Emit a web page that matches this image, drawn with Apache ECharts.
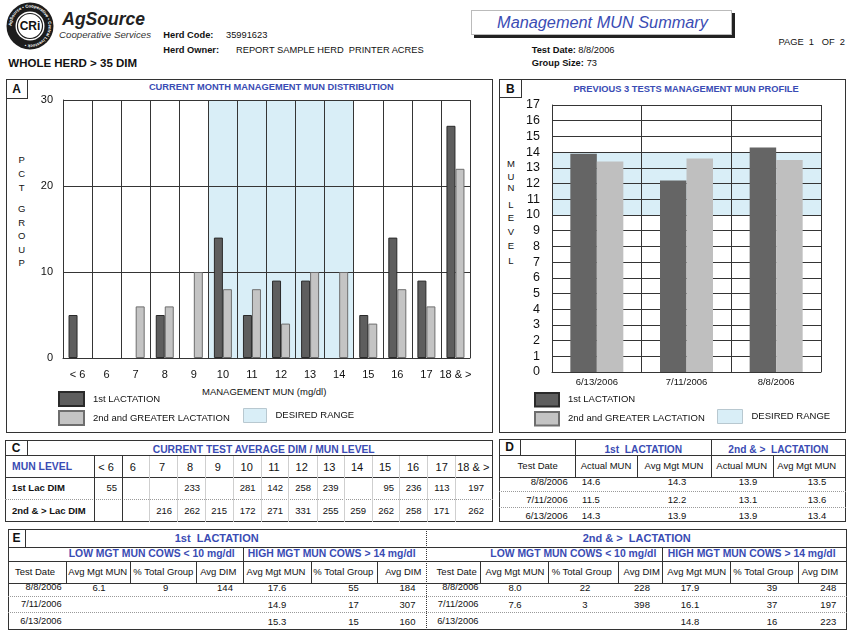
<!DOCTYPE html>
<html><head><meta charset="utf-8">
<script src="https://cdn.jsdelivr.net/npm/echarts@6.0.0/dist/echarts.min.js"></script>
<style>
body{margin:0;background:#fff;}
#page{position:relative;width:850px;height:636px;overflow:hidden;font-family:'Liberation Sans',Arial,sans-serif;color:#111;background:#fff;}
.t{position:absolute;white-space:pre;line-height:1;}
.ln{position:absolute;box-sizing:border-box;}
#chart{position:absolute;left:0;top:0;width:850px;height:636px;z-index:2;}
</style></head><body>
<div id="page">
<svg style="position:absolute;left:5px;top:1px" width="50" height="50" viewBox="0 0 50 50">
 <defs><path id="ring" d="M 25,25 m -18.5,0 a 18.5,18.5 0 1,1 37,0 a 18.5,18.5 0 1,1 -37,0"/></defs>
 <circle cx="25" cy="25" r="23.5" fill="#1c1c1c"/>
 <circle cx="25" cy="25" r="14.5" fill="#fff"/>
 <circle cx="25" cy="25" r="12.5" fill="#fff" stroke="#1c1c1c" stroke-width="1.2"/>
 <text font-size="4.3" font-weight="bold" fill="#fff" font-family="Liberation Sans, Arial"><textPath href="#ring">AgSource • Cooperative • Central Livestock •</textPath></text>
 <text x="25" y="29.3" text-anchor="middle" font-size="12" font-weight="bold" font-family="Liberation Sans, Arial" fill="#111">CRi</text>
</svg>
<div id="chart"></div>
</div>
<script>
// ---------------- DATA ----------------
const munCategories = ['< 6','6','7','8','9','10','11','12','13','14','15','16','17','18 & >'];
const pctFirstLac  = [5, 0, 0, 5, 0, 14, 5, 9, 9, 0, 5, 14, 9, 27];
const pctSecondLac = [0, 0, 6, 6, 10, 8, 8, 4, 10, 10, 4, 8, 6, 22];
const desiredRangeCats = ['10', '14'];
const pctTicks = [0, 30, 10];          // min, max, step
const munLevelTicks = [0, 17, 1];      // min, max, step
const desiredRangeMun = [10, 14];

const testDates = ['8/8/2006', '7/11/2006', '6/13/2006'];
const firstLacActualMun  = [14.6, 11.5, 14.3];
const firstLacAvgMgtMun  = [14.3, 12.2, 13.9];
const secondLacActualMun = [13.9, 13.1, 13.9];
const secondLacAvgMgtMun = [13.5, 13.6, 13.4];

const dimFirstLac  = [55, null, null, 233, null, 281, 142, 258, 239, null, 95, 236, 113, 197];
const dimSecondLac = [null, null, 216, 262, 215, 172, 271, 331, 255, 259, 262, 258, 171, 262];

const e1LowAvgMgt  = [6.1, null, null];
const e1LowPct     = [9, null, null];
const e1LowDim     = [144, null, null];
const e1HighAvgMgt = [17.6, 14.9, 15.3];
const e1HighPct    = [55, 17, 15];
const e1HighDim    = [184, 307, 160];
const e2LowAvgMgt  = [8.0, 7.6, null];
const e2LowPct     = [22, 3, null];
const e2LowDim     = [228, 398, null];
const e2HighAvgMgt = [17.9, 16.1, 14.8];
const e2HighPct    = [39, 37, 16];
const e2HighDim    = [248, 197, 223];

// ---------------- HTML helpers ----------------
const page = document.getElementById('page');
const BLUE = '#3a4cb4';
function T(x, y, s, o) {
  o = o || {};
  const d = document.createElement('div');
  d.className = 't';
  d.textContent = s;
  d.style.left = x + 'px'; d.style.top = y + 'px';
  d.style.fontSize = (o.fs || 9.5) + 'px';
  if (o.b) d.style.fontWeight = 'bold';
  if (o.i) d.style.fontStyle = 'italic';
  d.style.color = o.c || '#111';
  const a = o.a || 'l';
  d.style.transform = a === 'c' ? 'translate(-50%,-50%)' : a === 'r' ? 'translate(-100%,-50%)' : 'translate(0,-50%)';
  page.appendChild(d);
}
function H(x1, x2, y, st) {
  const d = document.createElement('div'); d.className = 'ln';
  d.style.left = x1 + 'px'; d.style.top = y + 'px'; d.style.width = (x2 - x1) + 'px'; d.style.height = '0';
  d.style.borderTop = st || '1px solid #333'; page.appendChild(d);
}
function V(x, y1, y2, st) {
  const d = document.createElement('div'); d.className = 'ln';
  d.style.left = x + 'px'; d.style.top = y1 + 'px'; d.style.height = (y2 - y1) + 'px'; d.style.width = '0';
  d.style.borderLeft = st || '1px solid #333'; page.appendChild(d);
}
function R(x1, y1, x2, y2, st) {
  const d = document.createElement('div'); d.className = 'ln';
  d.style.left = x1 + 'px'; d.style.top = y1 + 'px'; d.style.width = (x2 - x1) + 'px'; d.style.height = (y2 - y1) + 'px';
  d.style.border = st || '1.5px solid #333'; page.appendChild(d);
}
const DOT = '1px dotted #9a9a9a';
const LIGHTSEP = '1px solid #cfcfcf';
const fmt = v => (v === null || v === undefined) ? '' : String(v);
const fmt1 = v => (v === null || v === undefined) ? '' : v.toFixed(1);

// ---------------- Header ----------------
T(62.3, 20.3, 'AgSource', {fs: 17.5, b: 1, i: 1, c: '#222'});
T(59, 34.7, 'Cooperative Services', {fs: 9.7, i: 1, c: '#333'});
T(163.3, 36, 'Herd Code:', {fs: 9.3, b: 1});
T(226, 36, '35991623', {fs: 9.3});
T(163.3, 50.5, 'Herd Owner:', {fs: 9.3, b: 1});
T(236, 50.5, 'REPORT SAMPLE HERD  PRINTER ACRES', {fs: 9.3});
T(8.3, 64.3, 'WHOLE HERD > 35 DIM', {fs: 11.5, b: 1});
(function () {
  const d = document.createElement('div'); d.className = 'ln';
  d.style.cssText += 'left:471px;top:10px;width:261px;height:25px;border:1px solid #bbb;box-shadow:3px 3px 0 #222;background:#fff;';
  page.appendChild(d);
})();
T(602.5, 21.5, 'Management MUN Summary', {fs: 16.3, i: 1, c: BLUE, a: 'c'});
T(531.7, 51.2, 'Test Date:', {fs: 9.3, b: 1});
T(578.3, 51.2, '8/8/2006', {fs: 9.3});
T(531.7, 64.3, 'Group Size:', {fs: 9.3, b: 1});
T(586.7, 64.3, '73', {fs: 9.3});
T(845, 43.3, 'PAGE  1   OF  2', {fs: 9.3, a: 'r'});

// ---------------- Panel A frame ----------------
R(6, 79, 493, 433);
R(6, 79, 27.5, 98.5);
T(16.7, 89, 'A', {fs: 12, b: 1, a: 'c'});
T(271.3, 88, 'CURRENT MONTH MANAGEMENT MUN DISTRIBUTION', {fs: 9.3, b: 1, c: BLUE, a: 'c'});
const pctLetters = ['P','C','T','G','R','O','U','P'];
const pctLetterY = [159.7, 174, 188, 208.7, 223, 235.7, 249.7, 263];
pctLetters.forEach((l, i) => T(21.7, pctLetterY[i], l, {fs: 9.5, a: 'c'}));
T(264.2, 391.7, 'MANAGEMENT MUN (mg/dl)', {fs: 9.5, a: 'c'});

// ---------------- Panel B frame ----------------
R(499, 79, 846, 433);
R(499, 79, 521.5, 98);
T(510.3, 88.7, 'B', {fs: 12, b: 1, a: 'c'});
T(686, 89.7, 'PREVIOUS 3 TESTS MANAGEMENT MUN PROFILE', {fs: 9.3, b: 1, c: BLUE, a: 'c'});
const munLetters = ['M','U','N','L','E','V','E','L'];
const munLetterY = [164, 177.3, 188, 205.3, 218, 232, 246.3, 260.7];
munLetters.forEach((l, i) => T(511, munLetterY[i], l, {fs: 9.5, a: 'c'}));

// ---------------- Panel C ----------------
R(5, 440, 493, 522);
R(5, 440, 27.5, 455.5);
T(16, 447.7, 'C', {fs: 12, b: 1, a: 'c'});
T(263.7, 450.3, 'CURRENT TEST AVERAGE DIM / MUN LEVEL', {fs: 10.3, b: 1, c: BLUE, a: 'c'});
H(5, 493, 455);
H(5, 493, 477);
H(5, 493, 498.7, DOT);
V(94.3, 455, 522); V(121.7, 455, 522);
[149.3, 177.3, 205, 232.7, 260.7, 287.7, 316.7, 344.3, 371.7, 399.3, 427.3, 455].forEach(x => V(x, 455.5, 521.5, LIGHTSEP));
T(12, 466.5, 'MUN LEVEL', {fs: 10.4, b: 1, c: BLUE});
const cHeadX = [106, 132.7, 162, 190, 217.7, 246.7, 274, 301.7, 329.3, 357, 385, 413, 441.7, 473.3];
const cValR = [117, 145, 172, 200, 227, 255.5, 283, 311, 338.5, 366, 394, 421.5, 449.5, 484];
munCategories.forEach((c, i) => T(cHeadX[i], 466.5, c, {fs: 11, a: 'c'}));
T(12, 488, '1st Lac DIM', {fs: 9.5, b: 1});
T(12, 511.3, '2nd & > Lac DIM', {fs: 9.5, b: 1});
dimFirstLac.forEach((v, i) => T(cValR[i], 488, fmt(v), {fs: 9.5, a: 'r'}));
dimSecondLac.forEach((v, i) => T(cValR[i], 511.3, fmt(v), {fs: 9.5, a: 'r'}));

// ---------------- Panel D ----------------
R(499, 439, 846, 522);
R(499, 439, 520.5, 455.5);
T(509.5, 447, 'D', {fs: 12, b: 1, a: 'c'});
H(499, 846, 455);
H(499, 846, 477);
V(575, 439, 477); V(711, 439, 477); V(637.3, 455, 477); V(773.3, 455, 477);
T(643.3, 450, '1st  LACTATION', {fs: 10.2, b: 1, c: BLUE, a: 'c'});
T(778.3, 450, '2nd & >  LACTATION', {fs: 10.2, b: 1, c: BLUE, a: 'c'});
const dHead = ['Test Date', 'Actual MUN', 'Avg Mgt MUN', 'Actual MUN', 'Avg Mgt MUN'];
const dHeadX = [537.7, 606, 674, 741.7, 806.7];
dHead.forEach((h, i) => T(dHeadX[i], 466.3, h, {fs: 9.5, a: 'c'}));
const dRowY = [482.3, 499.7, 516.3];
H(499, 846, 490.7, DOT); H(499, 846, 507.3, DOT);
testDates.forEach((d, r) => {
  T(567.7, dRowY[r], d, {fs: 9.5, a: 'r'});
  T(591, dRowY[r], fmt1(firstLacActualMun[r]), {fs: 9.5, a: 'c'});
  T(677, dRowY[r], fmt1(firstLacAvgMgtMun[r]), {fs: 9.5, a: 'c'});
  T(748, dRowY[r], fmt1(secondLacActualMun[r]), {fs: 9.5, a: 'c'});
  T(817, dRowY[r], fmt1(secondLacAvgMgtMun[r]), {fs: 9.5, a: 'c'});
});

// ---------------- Panel E ----------------
R(8, 529, 847, 630);
R(8, 529, 25.5, 547.5);
T(16.5, 538, 'E', {fs: 12, b: 1, a: 'c'});
H(8, 847, 547); H(8, 847, 561); H(8, 847, 582.5);
V(426, 529, 630, '1.5px dotted #333');
V(242.7, 547, 582.5); V(662.3, 547, 582.5);
[65.7, 130, 196, 310.7, 376.7, 480, 547.7, 618.3, 730, 797.7].forEach(x => V(x, 561, 582.5));
H(8, 847, 596, DOT); H(8, 847, 612.3, DOT);
T(216.7, 537.7, '1st  LACTATION', {fs: 11, b: 1, c: BLUE, a: 'c'});
T(636.7, 537.7, '2nd & >  LACTATION', {fs: 11, b: 1, c: BLUE, a: 'c'});
T(151.7, 554.3, 'LOW MGT MUN COWS < 10 mg/dl', {fs: 10.4, b: 1, c: BLUE, a: 'c'});
T(331.7, 554.3, 'HIGH MGT MUN COWS > 14 mg/dl', {fs: 10.4, b: 1, c: BLUE, a: 'c'});
T(573.3, 554.3, 'LOW MGT MUN COWS < 10 mg/dl', {fs: 10.4, b: 1, c: BLUE, a: 'c'});
T(751.7, 554.3, 'HIGH MGT MUN COWS > 14 mg/dl', {fs: 10.4, b: 1, c: BLUE, a: 'c'});
const eHead = ['Test Date', 'Avg Mgt MUN', '% Total Group', 'Avg DIM', 'Avg Mgt MUN', '% Total Group', 'Avg DIM'];
const eHeadXL = [35, 97.7, 163.3, 218.3, 276, 343.3, 403.3];
const eHeadXR = [456.7, 515, 581.7, 641.7, 696.7, 763.3, 820];
eHead.forEach((h, i) => { T(eHeadXL[i], 571.5, h, {fs: 9.5, a: 'c'}); T(eHeadXR[i], 571.5, h, {fs: 9.5, a: 'c'}); });
const eRowY = [588.3, 605, 622];
const eValXL = [99, 165.7, 225, 277, 353.5, 407.5];
const eValXR = [515, 585, 642, 690, 772, 828.3];
testDates.forEach((d, r) => {
  T(61.7, eRowY[r], d, {fs: 9.3, a: 'r'});
  T(478.5, eRowY[r], d, {fs: 9.3, a: 'r'});
  [fmt1(e1LowAvgMgt[r]), fmt(e1LowPct[r]), fmt(e1LowDim[r]), fmt1(e1HighAvgMgt[r]), fmt(e1HighPct[r]), fmt(e1HighDim[r])]
    .forEach((v, i) => T(eValXL[i], eRowY[r], v, {fs: 9.5, a: 'c'}));
  [fmt1(e2LowAvgMgt[r]), fmt(e2LowPct[r]), fmt(e2LowDim[r]), fmt1(e2HighAvgMgt[r]), fmt(e2HighPct[r]), fmt(e2HighDim[r])]
    .forEach((v, i) => T(eValXR[i], eRowY[r], v, {fs: 9.5, a: 'c'}));
});

// ---------------- ECharts ----------------
const FONT = "'Liberation Sans', Arial, sans-serif";
const LINE = '#353535';
const BAND = '#d9eef7';
const DARK = '#5e5e5e', LIGHT = '#c4c4c4';
const profileDates = testDates.slice().reverse();
const profileFirstLac = firstLacAvgMgtMun.slice().reverse();
const profileSecondLac = secondLacAvgMgtMun.slice().reverse();
const bandStart = munCategories.indexOf(desiredRangeCats[0]);
const bandEnd = munCategories.indexOf(desiredRangeCats[1]) + 1;
const hideZero = v => (v === 0 ? '-' : v);   // a 0 % group is not drawn as a bar

const chart = echarts.init(document.getElementById('chart'), null, {renderer: 'canvas'});
const legendText = {fontSize: 9.5, color: '#111', fontFamily: FONT, padding: [0, 0, 0, 4]};
chart.setOption({
  animation: false,
  backgroundColor: 'transparent',
  textStyle: {fontFamily: FONT},
  grid: [
    {left: 63, top: 100, width: 407, height: 258},
    {left: 552, top: 105, width: 269, height: 267}
  ],
  xAxis: [
    {type: 'category', gridIndex: 0, data: munCategories, z: 3,
      axisLine: {show: true, lineStyle: {color: LINE}}, axisTick: {show: false},
      axisLabel: {fontSize: 11, color: '#111', margin: 11, interval: 0},
      splitLine: {show: true, interval: 0, lineStyle: {color: LINE, width: 1}}},
    {type: 'value', gridIndex: 0, min: 0, max: munCategories.length, show: false},
    {type: 'category', gridIndex: 1, data: profileDates, z: 3,
      axisLine: {show: true, lineStyle: {color: LINE}}, axisTick: {show: false},
      axisLabel: {fontSize: 9.5, color: '#111', margin: 5, interval: 0},
      splitLine: {show: true, interval: 0, lineStyle: {color: LINE, width: 1}}}
  ],
  yAxis: [
    {type: 'value', gridIndex: 0, min: pctTicks[0], max: pctTicks[1], interval: pctTicks[2], z: 3,
      axisLine: {show: true, lineStyle: {color: LINE}}, axisTick: {show: false},
      axisLabel: {fontSize: 11, color: '#111', margin: 10},
      splitLine: {show: true, lineStyle: {color: LINE, width: 1}}},
    {type: 'value', gridIndex: 1, min: munLevelTicks[0], max: munLevelTicks[1], interval: munLevelTicks[2], z: 3,
      axisLine: {show: true, lineStyle: {color: LINE}}, axisTick: {show: false},
      axisLabel: {fontSize: 12.5, color: '#111', margin: 12},
      splitLine: {show: true, lineStyle: {color: LINE, width: 1}}}
  ],
  legend: [
    {data: ['1st LACTATION', '2nd and GREATER LACTATION'], orient: 'vertical', left: 58, top: 391,
      itemWidth: 25, itemHeight: 14, itemGap: 3, icon: 'rect', padding: 0, textStyle: legendText, selectedMode: false},
    {data: [{name: 'DESIRED RANGE', itemStyle: {borderColor: '#b8c8d0', borderWidth: 1}}], left: 243, top: 408,
      itemWidth: 23, itemHeight: 14, icon: 'rect', padding: 0, textStyle: legendText, selectedMode: false},
    {data: ['1st LACTATION', '2nd and GREATER LACTATION'], orient: 'vertical', left: 534, top: 392,
      itemWidth: 24, itemHeight: 13.5, itemGap: 3.5, icon: 'rect', padding: 0, textStyle: legendText, selectedMode: false},
    {data: [{name: 'DESIRED RANGE', itemStyle: {borderColor: '#b8c8d0', borderWidth: 1}}], left: 717, top: 409,
      itemWidth: 25, itemHeight: 14, icon: 'rect', padding: 0, textStyle: legendText, selectedMode: false}
  ],
  series: [
    {name: 'DESIRED RANGE', type: 'line', xAxisIndex: 1, yAxisIndex: 0, data: [], z: 1, color: BAND,
      itemStyle: {color: BAND}, silent: true,
      markArea: {silent: true, z: 1, itemStyle: {color: BAND, opacity: 1}, label: {show: false},
        data: [[{xAxis: bandStart}, {xAxis: bandEnd}]]}},
    {name: 'DESIRED RANGE', type: 'line', xAxisIndex: 2, yAxisIndex: 1, data: [], z: 1, color: BAND,
      itemStyle: {color: BAND}, silent: true,
      markArea: {silent: true, z: 1, itemStyle: {color: BAND, opacity: 1}, label: {show: false},
        data: [[{yAxis: desiredRangeMun[0]}, {yAxis: desiredRangeMun[1]}]]}},
    {name: '1st LACTATION', type: 'bar', xAxisIndex: 0, yAxisIndex: 0, data: pctFirstLac.map(hideZero), z: 5,
      barWidth: 9, barGap: '0%', itemStyle: {color: DARK, borderColor: '#2a2a2a', borderWidth: 1}},
    {name: '2nd and GREATER LACTATION', type: 'bar', xAxisIndex: 0, yAxisIndex: 0, data: pctSecondLac.map(hideZero), z: 5,
      barWidth: 9, barGap: '0%', itemStyle: {color: LIGHT, borderColor: '#6e6e6e', borderWidth: 1}},
    {name: '1st LACTATION', type: 'bar', xAxisIndex: 2, yAxisIndex: 1, data: profileFirstLac, z: 5,
      barWidth: 26.5, barGap: '0%', itemStyle: {color: '#656565'}},
    {name: '2nd and GREATER LACTATION', type: 'bar', xAxisIndex: 2, yAxisIndex: 1, data: profileSecondLac, z: 5,
      barWidth: 26.5, barGap: '0%', itemStyle: {color: '#bfbfbf'}}
  ]
});
</script>
</body></html>
